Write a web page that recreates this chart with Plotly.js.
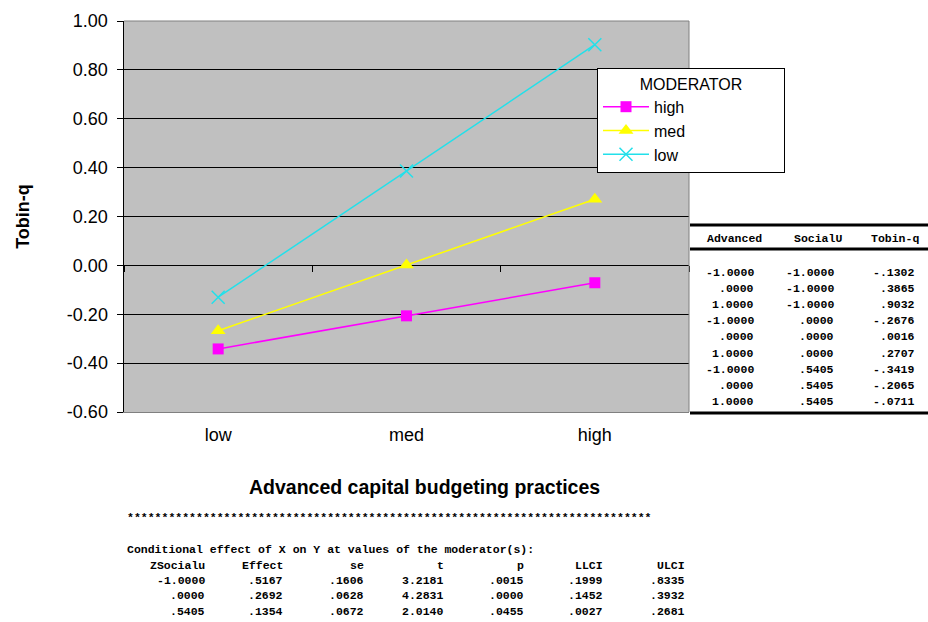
<!DOCTYPE html>
<html>
<head>
<meta charset="utf-8">
<script src="https://cdn.plot.ly/plotly-3.0.1.min.js"></script>
<style>html,body{margin:0;padding:0;background:#fff;}#chart{width:928px;height:622px;}</style>
</head>
<body>
<div id="chart"></div>
<script>
// ---- data ----
var categories = ['low', 'med', 'high'];
var moderatorNames = ['high', 'med', 'low'];
var moderatorValues = [0.5405, 0, -1];
var advanced = [-1, 0, 1, -1, 0, 1, -1, 0, 1];
var socialU = [-1, -1, -1, 0, 0, 0, 0.5405, 0.5405, 0.5405];
var tobinQ = [-0.1302, 0.3865, 0.9032, -0.2676, 0.0016, 0.2707, -0.3419, -0.2065, -0.0711];
var tableHeader = ['Advanced', 'SocialU', 'Tobin-q'];
var yTickVals = [-0.6, -0.4, -0.2, 0, 0.2, 0.4, 0.6, 0.8, 1.0];
var yTickText = ['-0.60', '-0.40', '-0.20', '0.00', '0.20', '0.40', '0.60', '0.80', '1.00'];

var effHeader = ['ZSocialu', 'Effect', 'se', 't', 'p', 'LLCI', 'ULCI'];
var zSocial = ['-1.0000', '.0000', '.5405'];
var effect = ['.5167', '.2692', '.1354'];
var se = ['.1606', '.0628', '.0672'];
var tStat = ['3.2181', '4.2831', '2.0140'];
var pVal = ['.0015', '.0000', '.0455'];
var llci = ['.1999', '.1452', '.0027'];
var ulci = ['.8335', '.3932', '.2681'];
var condTitle = 'Conditional effect of X on Y at values of the moderator(s):';
var xTitle = 'Advanced capital budgeting practices';
var yTitle = 'Tobin-q';
var legendTitle = 'MODERATOR';

// ---- styles ----
var styles = {
  high: {color: '#FF00FF', symbol: 'square', size: 11},
  med: {color: '#FFFF00', symbol: 'triangle-up', size: 13},
  low: {color: '#22E0EA', symbol: 'x-thin-open', size: 13}
};
var legendPad = new Array(22).join('\u00A0'); // widens the legend box like the original

// ---- geometry helpers (plot area in pixels) ----
var L = 124, R = 689, T = 21, B = 412;
function px(X) { return (X - L) / (R - L); }
function py(Y) { return (B - Y) / (B - T); }
function fmt4(v) { return v.toFixed(4).replace(/^(-?)0\./, '$1.'); }

var traces = [];
moderatorNames.forEach(function (name, k) {
  var ys = [];
  for (var i = 0; i < tobinQ.length; i++) {
    if (socialU[i] === moderatorValues[k]) ys.push(tobinQ[i]);
  }
  var st = styles[name];
  traces.push({
    type: 'scatter', mode: 'lines+markers', name: name + legendPad,
    x: categories, y: ys,
    line: {color: st.color, width: 1.5},
    marker: {symbol: st.symbol, size: st.size, color: st.color,
             line: {color: st.color, width: name === 'low' ? 1.5 : 0}},
    hoverinfo: 'skip'
  });
});
// invisible trace to carry the crossing axis ticks at y=0
traces.push({type: 'scatter', x: categories, y: [null, null, null], xaxis: 'x2', yaxis: 'y',
  showlegend: false, hoverinfo: 'skip', mode: 'markers'});

var mono = {family: 'Liberation Mono, DejaVu Sans Mono, monospace', size: 11.5, color: '#000', weight: 'bold'};
var annotations = [];
function addText(text, X, Y, anchor) {
  annotations.push({text: text, xref: 'paper', yref: 'paper', x: px(X), y: py(Y),
    xanchor: anchor, yanchor: 'middle', showarrow: false, font: mono});
}

// right-hand table
var tabRight = [764, 844, 921];
var colRight = [756, 836, 917];
tableHeader.forEach(function (h, j) { addText(h, tabRight[j], 238, 'right'); });
for (var i = 0; i < tobinQ.length; i++) {
  var Y = 272 + i * 16.2;
  addText(fmt4(advanced[i]), colRight[0], Y, 'right');
  addText(fmt4(socialU[i]), colRight[1], Y, 'right');
  addText(fmt4(tobinQ[i]), colRight[2], Y, 'right');
}

// bottom text
addText(new Array(77).join('*'), 125, 517, 'left');
addText(condTitle, 125, 549, 'left');
var effRight = [207, 285, 366, 446, 526, 605, 687];
effHeader.forEach(function (h, j) { addText(h, effRight[j], 565, 'right'); });
var effCols = [zSocial, effect, se, tStat, pVal, llci, ulci];
for (var r = 0; r < 3; r++) {
  effCols.forEach(function (col, j) { addText(col[r], effRight[j], 580 + r * 15.5, 'right'); });
}

// x axis title (as in the original, centred slightly right of the plot)
annotations.push({text: xTitle, xref: 'paper', yref: 'paper', x: px(424), y: py(487),
  xanchor: 'center', yanchor: 'middle', showarrow: false,
  font: {family: 'Liberation Sans, Arial, sans-serif', size: 19.5, weight: 'bold', color: '#000'}});

var shapes = [
  {type: 'line', xref: 'paper', yref: 'paper', x0: 0, x1: 1, y0: 1, y1: 1, line: {color: '#808080', width: 1}},
  {type: 'line', xref: 'paper', yref: 'paper', x0: 1, x1: 1, y0: 0, y1: 1, line: {color: '#808080', width: 1}},
  {type: 'line', xref: 'paper', yref: 'paper', x0: px(690), x1: px(928), y0: py(225), y1: py(225), line: {color: '#000', width: 3}},
  {type: 'line', xref: 'paper', yref: 'paper', x0: px(690), x1: px(928), y0: py(249), y1: py(249), line: {color: '#000', width: 3}},
  {type: 'line', xref: 'paper', yref: 'paper', x0: px(690), x1: px(928), y0: py(413), y1: py(413), line: {color: '#000', width: 3}}
];

var layout = {
  width: 928, height: 622,
  margin: {l: L, r: 928 - R, t: T, b: 622 - B, pad: 0},
  paper_bgcolor: '#FFFFFF', plot_bgcolor: '#C0C0C0',
  font: {family: 'Liberation Sans, Arial, sans-serif', color: '#000'},
  showlegend: true,
  legend: {
    x: px(597), y: py(68), xanchor: 'left', yanchor: 'top',
    bgcolor: '#FFFFFF', bordercolor: '#000', borderwidth: 1,
    font: {family: 'Liberation Sans, Arial, sans-serif', size: 16, color: '#000'},
    title: {text: legendTitle, side: 'top center', font: {size: 16}},
    itemwidth: 46, tracegroupgap: 0
  },
  xaxis: {
    type: 'category', range: [-0.5, 2.5], showgrid: false, zeroline: false,
    showline: true, linecolor: '#808080', linewidth: 1, ticks: '',
    tickfont: {family: 'Liberation Sans, Arial, sans-serif', size: 18},
    ticklabelstandoff: 6,
    fixedrange: true
  },
  xaxis2: {
    type: 'category', overlaying: 'x', anchor: 'free', position: 0.375, side: 'bottom',
    range: [-0.5, 2.5], tickson: 'boundaries', ticks: 'outside', ticklen: 6, tickcolor: '#000',
    showticklabels: false, showgrid: false, zeroline: false, showline: false, fixedrange: true
  },
  yaxis: {
    range: [-0.6, 1.0], tickmode: 'array', tickvals: yTickVals, ticktext: yTickText,
    showgrid: true, gridcolor: '#000', gridwidth: 1,
    zeroline: true, zerolinecolor: '#000', zerolinewidth: 1,
    showline: true, linecolor: '#000', linewidth: 1.5,
    ticks: 'outside', ticklen: 6, tickcolor: '#000',
    tickfont: {family: 'Liberation Sans, Arial, sans-serif', size: 18},
    ticklabelstandoff: 5,
    title: {text: yTitle, standoff: 32, font: {family: 'Liberation Sans, Arial, sans-serif', size: 18, weight: 'bold'}},
    fixedrange: true
  },
  shapes: shapes,
  annotations: annotations
};

Plotly.newPlot('chart', traces, layout, {staticPlot: true, displayModeBar: false});
</script>
</body>
</html>
